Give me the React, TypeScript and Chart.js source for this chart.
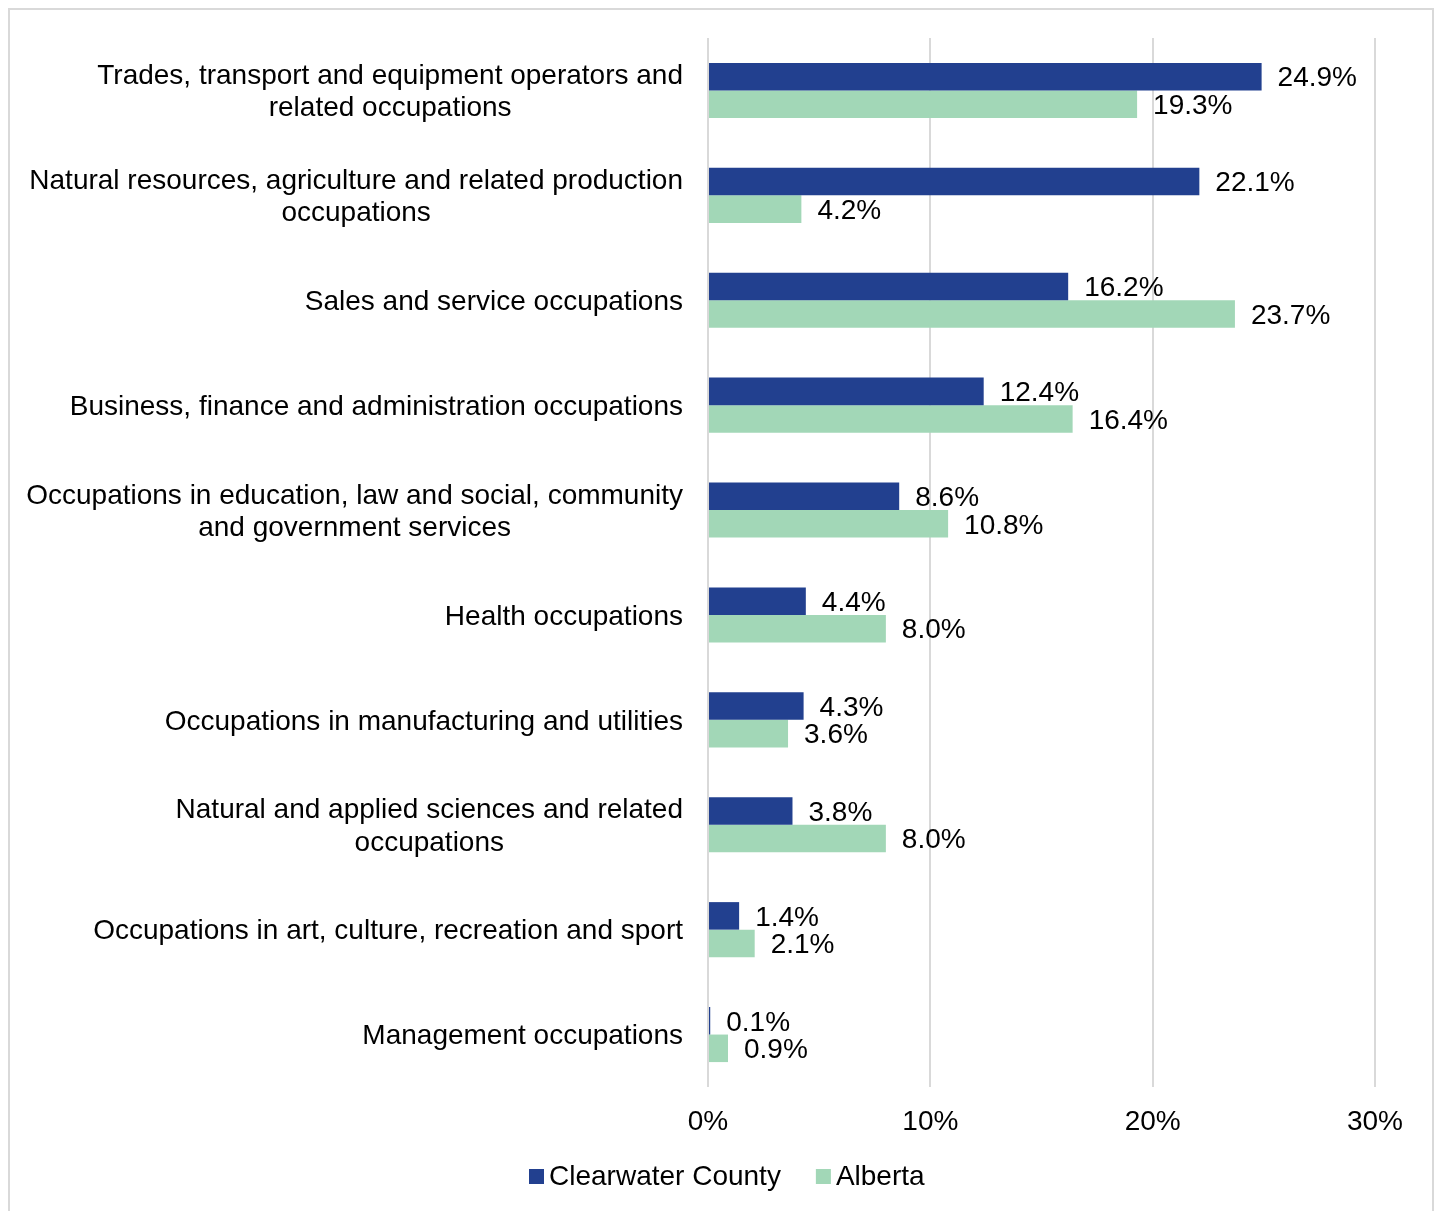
import React, { useEffect, useRef } from "react";
import { Chart, registerables } from "chart.js";

Chart.register(...registerables);

const categoryLines: string[][] = [
  ["Trades, transport and equipment operators and", "related occupations"],
  ["Natural resources, agriculture and related production", "occupations"],
  ["Sales and service occupations"],
  ["Business, finance and administration occupations"],
  ["Occupations in education, law and social, community", "and government services"],
  ["Health occupations"],
  ["Occupations in manufacturing and utilities"],
  ["Natural and applied sciences and related", "occupations"],
  ["Occupations in art, culture, recreation and sport"],
  ["Management occupations"],
];

const seriesNames = ["Clearwater County", "Alberta"];
const clearwaterValues = [24.9, 22.1, 16.2, 12.4, 8.6, 4.4, 4.3, 3.8, 1.4, 0.1];
const albertaValues = [19.3, 4.2, 23.7, 16.4, 10.8, 8.0, 3.6, 8.0, 2.1, 0.9];
const xTicks = [0, 10, 20, 30];

const BLUE = "#22408f";
const GREEN = "#a2d7b7";
const FONT = "Liberation Sans, Arial, sans-serif";
const FS = 28;

const W = 1422;
const H = 1201;

const customPlugin = {
  id: "custom",
  afterDatasetsDraw(chart: any) {
    const ctx = chart.ctx;
    ctx.save();
    ctx.font = `${FS}px ${FONT}`;
    ctx.fillStyle = "#000";
    ctx.textBaseline = "middle";
    ctx.textAlign = "left";
    chart.data.datasets.forEach((ds: any, di: number) => {
      const meta = chart.getDatasetMeta(di);
      meta.data.forEach((el: any, i: number) => {
        const v = ds.data[i];
        ctx.fillText(v.toFixed(1) + "%", el.x + 16, el.y + 2);
      });
    });
    ctx.restore();
  },
  afterDraw(chart: any) {
    const ctx = chart.ctx;
    const yScale = chart.scales.y;
    ctx.save();
    ctx.font = `${FS}px ${FONT}`;
    ctx.fillStyle = "#000";
    ctx.textBaseline = "middle";
    ctx.textAlign = "center";
    const rightEdge = 673;
    const lh = 32.5;
    categoryLines.forEach((lines, i) => {
      const y = yScale.getPixelForValue(i);
      let maxW = 0;
      lines.forEach((l) => {
        maxW = Math.max(maxW, ctx.measureText(l).width);
      });
      const cx = rightEdge - maxW / 2;
      lines.forEach((l, j) => {
        ctx.fillText(l, cx, y + (j - (lines.length - 1) / 2) * lh + 2);
      });
    });

    // legend
    const colors = [BLUE, GREEN];
    const box = 15;
    const gapText = 5;
    const gapItem = 35;
    const widths = seriesNames.map((n) => box + gapText + ctx.measureText(n).width);
    let x = 519;
    const ly = 1166.5;
    ctx.textAlign = "left";
    seriesNames.forEach((n, k) => {
      ctx.fillStyle = colors[k];
      ctx.fillRect(x, ly - box / 2, box, box);
      ctx.fillStyle = "#000";
      ctx.fillText(n, x + box + gapText, ly + 1);
      x += widths[k] + gapItem;
    });
    ctx.restore();
  },
};

export default function App() {
  const ref = useRef<HTMLCanvasElement>(null);
  useEffect(() => {
    if (!ref.current) return;
    const chart = new Chart(ref.current, {
      type: "bar",
      data: {
        labels: categoryLines.map((l) => l.join(" ")),
        datasets: [
          {
            label: seriesNames[0],
            data: clearwaterValues,
            backgroundColor: BLUE,
            barPercentage: 1,
            categoryPercentage: 0.525,
          },
          {
            label: seriesNames[1],
            data: albertaValues,
            backgroundColor: GREEN,
            barPercentage: 1,
            categoryPercentage: 0.525,
          },
        ],
      },
      options: {
        indexAxis: "y",
        responsive: false,
        animation: false,
        layout: { padding: { left: 698, right: 57, top: 28, bottom: 64 } },
        plugins: {
          legend: { display: false },
          tooltip: { enabled: false },
        },
        scales: {
          x: {
            min: 0,
            max: 30,
            afterBuildTicks: (scale: any) => {
              scale.ticks = xTicks.map((v) => ({ value: v }));
            },
            grid: { color: "#d9d9d9", lineWidth: 2, drawTicks: false },
            border: { display: false },
            ticks: {
              color: "#000",
              font: { family: FONT, size: FS },
              padding: 18,
              callback: (v: any) => v + "%",
            },
            afterFit: (scale: any) => {
              scale.height = 60;
            },
          },
          y: {
            ticks: { display: false },
            grid: { display: false },
            border: { display: false },
            afterFit: (scale: any) => {
              scale.width = 0;
            },
          },
        },
      },
      plugins: [customPlugin],
    });
    return () => chart.destroy();
  }, []);

  return (
    <div
      style={{
        position: "absolute",
        left: 8,
        top: 8,
        width: W,
        height: H,
        borderTop: "2px solid #d9d9d9",
        borderLeft: "2px solid #d9d9d9",
        borderRight: "2px solid #d9d9d9",
        background: "#fff",
      }}
    >
      <canvas ref={ref} width={W} height={H} style={{ display: "block" }} />
    </div>
  );
}
